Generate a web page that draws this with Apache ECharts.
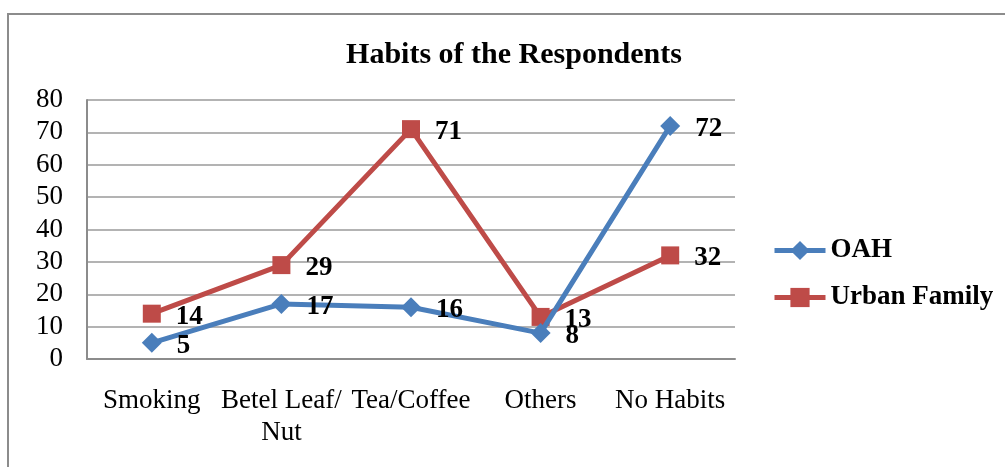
<!DOCTYPE html>
<html>
<head>
<meta charset="utf-8">
<script src="https://cdn.jsdelivr.net/npm/echarts@6/dist/echarts.min.js"></script>
<style>
  html, body { margin: 0; padding: 0; background: #ffffff; }
  #chart { width: 1005px; height: 467px; }
</style>
</head>
<body>
<div id="chart"></div>
<script>
// Habits reported by respondents, old age home (OAH) vs urban family
const categories = ['Smoking', 'Betel Leaf/\nNut', 'Tea/Coffee', 'Others', 'No Habits'];
const oahValues = [5, 17, 16, 8, 72];
const urbanValues = [14, 29, 71, 13, 32];
const yTicks = { min: 0, max: 80, interval: 10 };

const serif = '"Liberation Serif", "Times New Roman", "DejaVu Serif", serif';
const BLUE = '#4a7ebb';
const RED = '#be4b48';

const chart = echarts.init(document.getElementById('chart'), null, { renderer: 'canvas' });

const valueLabel = {
  show: true,
  position: 'right',
  distance: 15,
  offset: [0, 3],
  color: '#000',
  fontFamily: serif,
  fontWeight: 'bold',
  fontSize: 27
};

chart.setOption({
  animation: false,
  backgroundColor: '#ffffff',
  graphic: [{
    type: 'rect',
    shape: { x: 8, y: 14, width: 1100, height: 520 },
    style: { fill: 'none', stroke: '#8c8c8c', lineWidth: 2 },
    silent: true
  }],
  title: {
    text: 'Habits of the Respondents',
    left: 509,
    textAlign: 'center',
    top: 35,
    textStyle: { fontFamily: serif, fontWeight: 'bold', fontSize: 30, color: '#000' }
  },
  legend: {
    orient: 'vertical',
    left: 772,
    top: 237,
    padding: 0,
    itemWidth: 51,
    itemHeight: 24,
    itemGap: 20,
    textStyle: { fontFamily: serif, fontWeight: 'bold', fontSize: 27, color: '#000' },
    data: [
      { name: 'OAH', lineStyle: { width: 5 } },
      { name: 'Urban Family', lineStyle: { width: 5 } }
    ]
  },
  grid: { left: 87, right: 270, top: 100, bottom: 108, containLabel: false },
  xAxis: {
    type: 'category',
    data: categories,
    boundaryGap: true,
    axisLine: { lineStyle: { color: '#8c8c8c', width: 2 } },
    axisTick: { show: false },
    axisLabel: {
      interval: 0,
      margin: 26,
      color: '#000',
      fontFamily: serif,
      fontSize: 27,
      lineHeight: 32
    }
  },
  yAxis: {
    type: 'value',
    min: yTicks.min,
    max: yTicks.max,
    interval: yTicks.interval,
    axisLine: { show: true, lineStyle: { color: '#8c8c8c', width: 2 } },
    axisTick: { show: false },
    splitLine: { lineStyle: { color: '#9a9a9a', width: 1.5 } },
    axisLabel: { margin: 24, color: '#000', fontFamily: serif, fontSize: 27 }
  },
  series: [
    {
      name: 'OAH',
      type: 'line',
      data: oahValues,
      z: 3,
      symbol: 'diamond',
      symbolSize: 20,
      lineStyle: { color: BLUE, width: 5 },
      itemStyle: { color: BLUE },
      label: valueLabel
    },
    {
      name: 'Urban Family',
      type: 'line',
      data: urbanValues,
      z: 2,
      symbol: 'rect',
      symbolSize: 18,
      lineStyle: { color: RED, width: 5 },
      itemStyle: { color: RED },
      label: valueLabel
    }
  ]
});
</script>
</body>
</html>
